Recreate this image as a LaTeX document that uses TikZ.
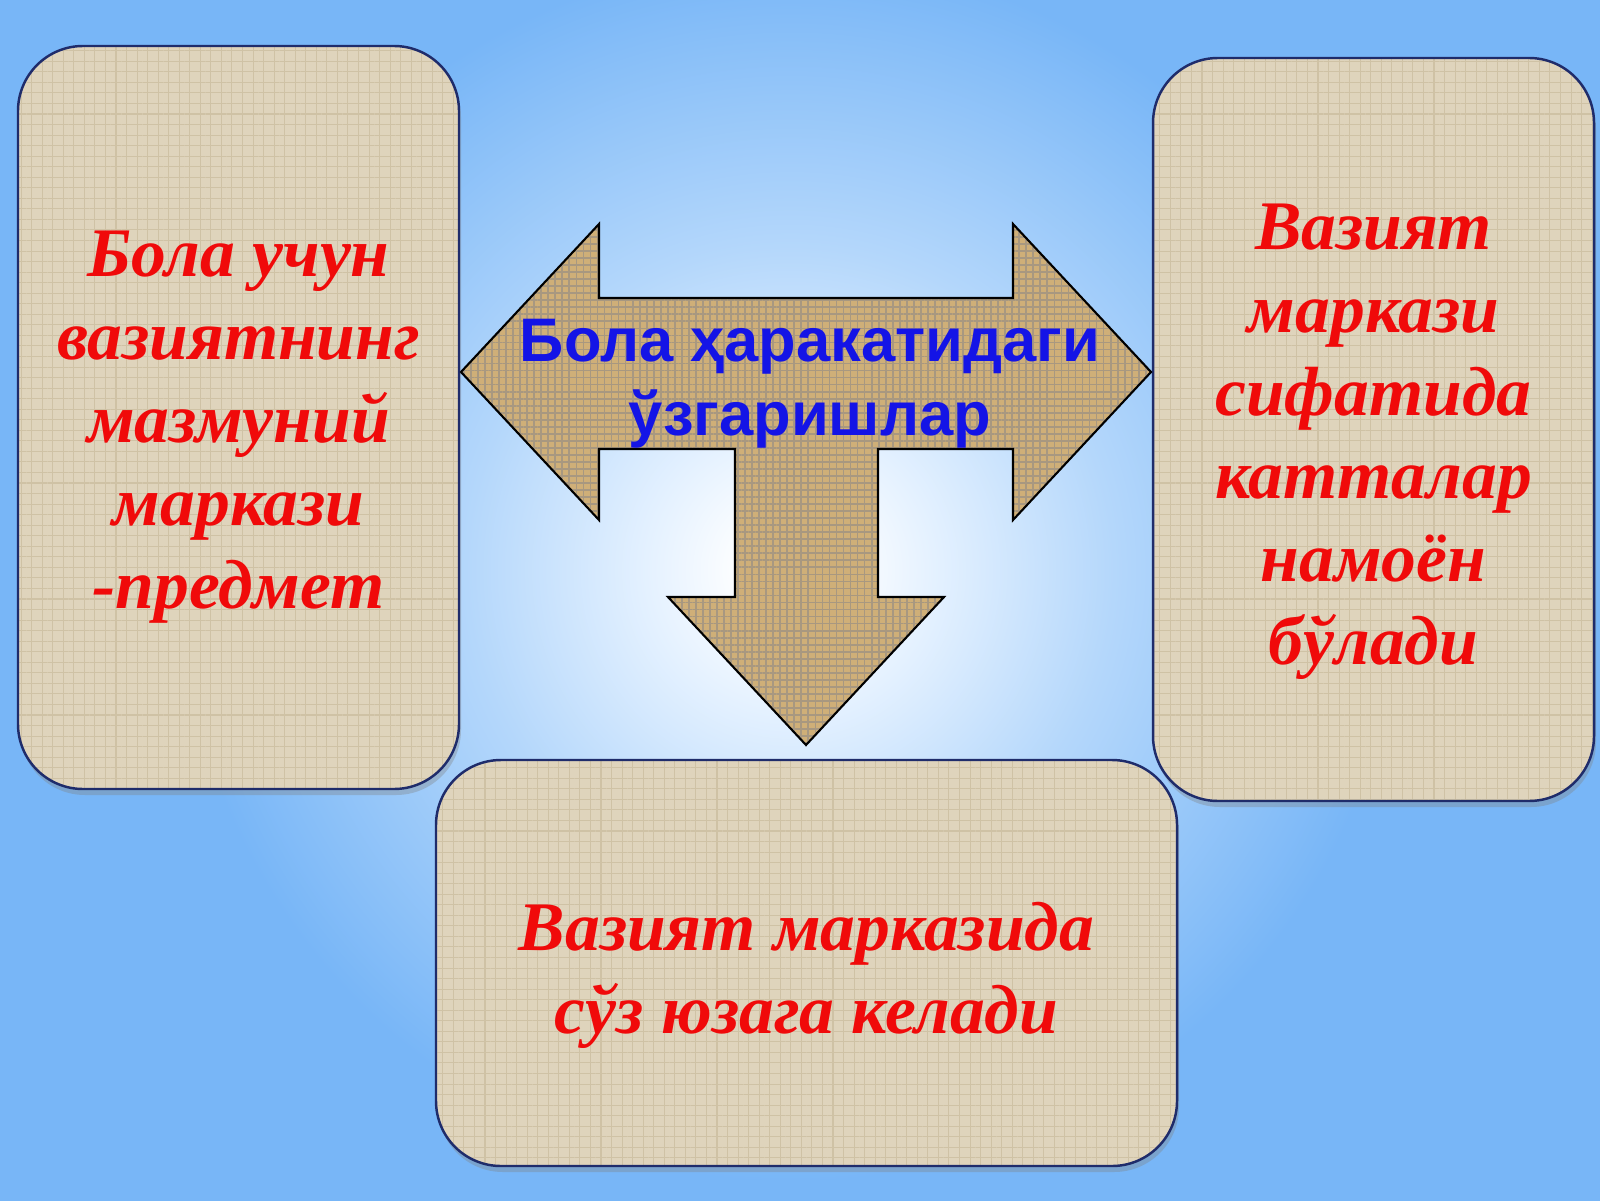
\documentclass[tikz,border=0pt]{standalone}
\usepackage{fontspec}
\setmainfont{Liberation Serif}
\newfontfamily\labelsans{Liberation Sans}
\usetikzlibrary{shadows,patterns.meta}

\definecolor{skyblue}{HTML}{78B6F7}
\definecolor{skylight}{HTML}{B4D7FB}
\definecolor{glowblue}{HTML}{E4F1FF}
\definecolor{linen}{HTML}{DFD4BC}
\definecolor{linenline}{HTML}{CFC2A5}
\definecolor{cardline}{HTML}{1F2C6B}
\definecolor{burlap}{HTML}{CFAF78}
\definecolor{burlapdark}{HTML}{6E532B}
\definecolor{cardred}{HTML}{F00A0A}
\definecolor{labelblue}{HTML}{1414E6}

% radial glow, 25bp = radius of the shaded circle
\pgfdeclareradialshading{skyglow}{\pgfpoint{0bp}{0bp}}{%
	color(0bp)=(white); color(1.2bp)=(white); color(4bp)=(glowblue);
	color(9bp)=(skylight); color(17bp)=(skyblue); color(50bp)=(skyblue)}

\tikzset{
	card/.style={draw=cardline, line width=0.7pt, rounded corners=0.65cm,
		drop shadow={shadow xshift=0.02cm, shadow yshift=-0.06cm, opacity=0.35},
		preaction={fill=linen},
		pattern={Hatch[distance=3pt, angle=0, line width=0.3pt]}, pattern color=linenline,
		inner sep=0pt},
	cardtext/.style={align=center, text=cardred, inner sep=0pt,
		font=\fontsize{19.8}{23.6}\selectfont\bfseries\itshape},
	burlapfill/.style={draw=black, line width=0.6pt, preaction={fill=burlap},
		pattern={Hatch[distance=2pt, angle=0, line width=0.5pt]}, pattern color=burlapdark!60},
}

\begin{document}
\begin{tikzpicture}

	\useasboundingbox (0,0) rectangle (16,12);

	% Background
	\fill[skyblue] (-0.2,-0.2) rectangle (16.2,12.2);
	\coordinate (glow) at (7.9,6.3);
	\shade[shading=skyglow] (glow) circle (9cm);

	% Boxes
	\node[card, minimum width=4.41cm, minimum height=7.43cm] (toy) at (2.385,7.825) {};
	\node[card, minimum width=4.41cm, minimum height=7.43cm] (adults) at (13.735,7.705) {};
	\node[card, minimum width=7.41cm, minimum height=4.06cm] (speech) at (8.065,2.37) {};

	\node[cardtext] (toytext) at ([yshift=-0.1cm]toy.center)
		{Бола учун\\вазиятнинг\\мазмуний\\маркази\\-предмет};
	\node[cardtext] (adultstext) at ([yshift=-0.12cm]adults.center)
		{Вазият\\маркази\\сифатида\\катталар\\намоён\\бўлади};
	\node[cardtext] (speechtext) at ([yshift=-0.12cm]speech.center)
		{Вазият марказида\\сўз юзага келади};

	% Arrow coordinates
	\coordinate (tipL)    at (4.61,8.28);
	\coordinate (headLt)  at (5.99,9.76);
	\coordinate (shaftLt) at (5.99,9.02);
	\coordinate (shaftRt) at (10.13,9.02);
	\coordinate (headRt)  at (10.13,9.76);
	\coordinate (tipR)    at (11.51,8.28);
	\coordinate (headRb)  at (10.13,6.80);
	\coordinate (shaftRb) at (10.13,7.51);
	\coordinate (downRt)  at (8.78,7.51);
	\coordinate (downRb)  at (8.78,6.03);
	\coordinate (headDr)  at (9.44,6.03);
	\coordinate (tipD)    at (8.06,4.55);
	\coordinate (headDl)  at (6.68,6.03);
	\coordinate (downLb)  at (7.35,6.03);
	\coordinate (downLt)  at (7.35,7.51);
	\coordinate (shaftLb) at (5.99,7.51);
	\coordinate (headLb)  at (5.99,6.80);

	% Arrow
	\draw[burlapfill, line join=miter] (tipL) -- (headLt) -- (shaftLt) -- (shaftRt) -- (headRt)
		-- (tipR) -- (headRb) -- (shaftRb) -- (downRt) -- (downRb) -- (headDr)
		-- (tipD) -- (headDl) -- (downLb) -- (downLt) -- (shaftLb) -- (headLb) -- cycle;

	\node[align=center, text=labelblue, inner sep=0pt,
		font=\labelsans\fontsize{17.5}{21}\selectfont\bfseries] (changes) at (8.1,8.16)
		{Бола ҳаракатидаги\\ўзгаришлар};

\end{tikzpicture}
\end{document}
